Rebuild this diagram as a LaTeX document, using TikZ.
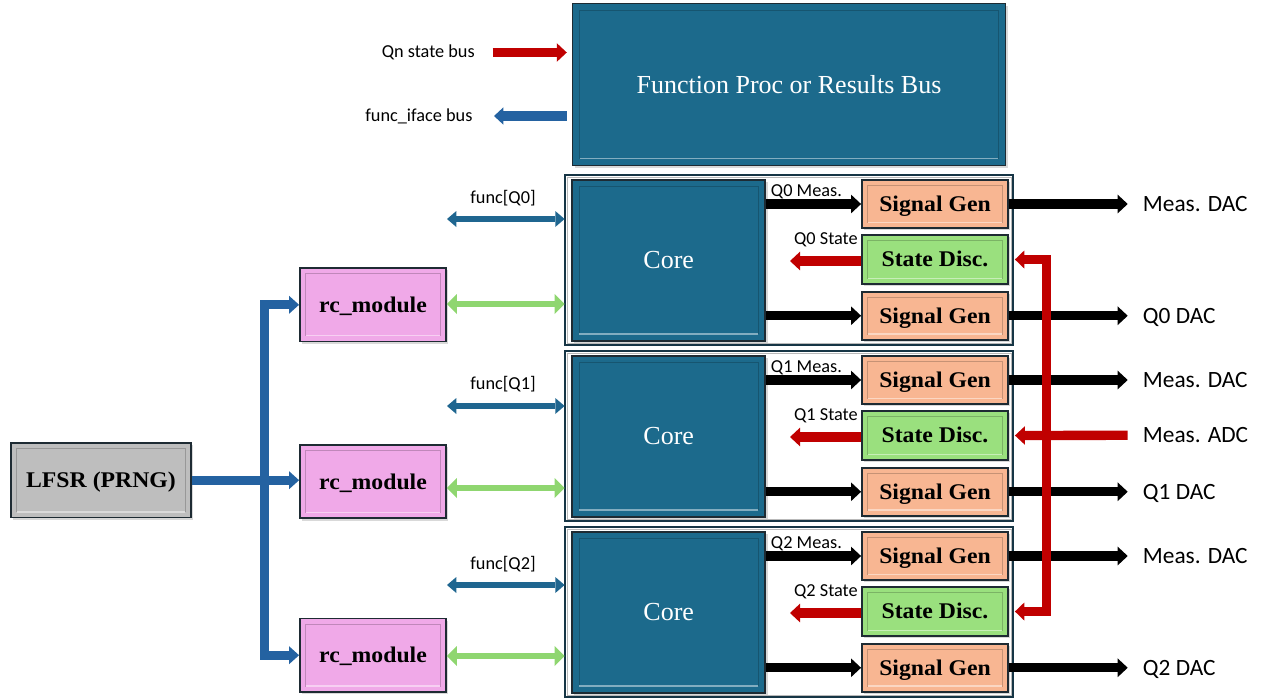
\documentclass[tikz,border=0pt]{standalone}
\usepackage{fontspec}
\setmainfont{Liberation Serif}
\newfontfamily\garb[FakeStretch=1.06]{Liberation Serif}
\newfontfamily\calib{Carlito}
\usetikzlibrary{arrows.meta,shadows,calc}

\definecolor{boxedge}{HTML}{1E2B33}
\definecolor{contedge}{HTML}{163545}
\definecolor{corefill}{HTML}{1C6A8C}
\definecolor{sgfill}{HTML}{F8B692}
\definecolor{sdfill}{HTML}{9AE07E}
\definecolor{rcfill}{HTML}{F0A9E8}
\definecolor{lfsrfill}{HTML}{BEBEBE}
\definecolor{funcblue}{HTML}{1F6690}
\definecolor{busblue}{HTML}{2462A1}
\definecolor{redc}{HTML}{C00000}
\definecolor{grnc}{HTML}{8FD670}

% inner bevel of a block: darker frame, light lower edge
\newcommand\bevel[3]{%
  \draw[#2!80!black, line width=0.8pt]
    ([shift={(#3,-#3)}]#1.north west) rectangle ([shift={(-#3,#3)}]#1.south east);
  \draw[#2!55!white, line width=1.1pt]
    ([shift={(#3,#3)}]#1.south west) -- ([shift={(-#3,#3)}]#1.south east);
}

\begin{document}
\begin{tikzpicture}[x=0.75pt,y=-0.75pt,
  blockbase/.style={draw=boxedge, line width=1.4pt, inner sep=0pt,
    drop shadow={opacity=0.3, shadow xshift=1.6pt, shadow yshift=-1.6pt}},
  serifbold/.style={font=\garb\bfseries\fontsize{16.8}{18}\selectfont,
    text height=11pt, text depth=0pt},
  sgbox/.style={blockbase, serifbold, fill=sgfill, minimum width=109.5pt, minimum height=36pt},
  sdbox/.style={blockbase, serifbold, fill=sdfill, minimum width=109.5pt, minimum height=37pt},
  rcbox/.style={blockbase, serifbold, fill=rcfill, minimum width=109.5pt, minimum height=55pt},
  lfsrbox/.style={blockbase, serifbold, fill=lfsrfill, minimum width=135pt, minimum height=56pt},
  corebox/.style={blockbase, fill=corefill, text=white, minimum width=145pt, minimum height=121pt,
    font=\fontsize{19.5}{22}\selectfont, text height=13pt, text depth=0pt},
  container/.style={draw=contedge, line width=1.8pt, fill=white, inner sep=0pt,
    minimum width=336pt, minimum height=127.5pt},
  smalllab/.style={font=\calib\fontsize{13.7}{15}\selectfont, inner sep=0pt},
  biglab/.style={font=\calib\fontsize{17.5}{20}\selectfont, inner sep=0pt,
    anchor=west, text height=11.3pt, text depth=0pt},
  blkarr/.style={draw=black, line width=7pt,
    -{Triangle[length=7.5pt,width=14pt,line width=0pt]}},
  redarr/.style={draw=redc, line width=7pt,
    -{Triangle[length=7.5pt,width=14pt,line width=0pt]}},
  redbus/.style={draw=redc, line width=6.8pt, line join=miter,
    {Triangle[length=7pt,width=13.5pt,line width=0pt]}-{Triangle[length=7pt,width=13.5pt,line width=0pt]}},
  busarr/.style={draw=busblue, line width=7pt,
    -{Triangle[length=7pt,width=13pt,line width=0pt]}},
  treearr/.style={draw=busblue, line width=7pt, line join=miter,
    -{Triangle[length=7.5pt,width=13.5pt,line width=0pt]}},
  funcarr/.style={draw=funcblue, line width=4.5pt,
    {Triangle[length=7pt,width=12pt,line width=0pt]}-{Triangle[length=7pt,width=12pt,line width=0pt]}},
  grnarr/.style={draw=grnc, line width=5.2pt,
    {Triangle[length=7.5pt,width=15pt,line width=0pt]}-{Triangle[length=7.5pt,width=15pt,line width=0pt]}},
]
\useasboundingbox (0,0) rectangle (1269,697);

% ---- function processor / results bus ----
\node[blockbase, fill=corefill, text=white, minimum width=324.75pt, minimum height=121.5pt,
  font=\fontsize{19.5}{22}\selectfont, text height=13pt, text depth=0pt]
  (fp) at (789,84.5) {Function Proc or Results Bus};
\bevel{fp}{corefill}{6pt}

\node[smalllab, anchor=east] (qn) at (475,52.5) {Qn state bus};
\node[smalllab, anchor=east] (fi) at (472.7,116) {func\_iface bus};
\draw[redarr] ($(qn.east)+(13.3pt,0)$) -- ($(fp.west |- qn.east)+(-3.6pt,0)$);
\draw[busarr] ($(fp.west |- fi.east)+(-3.6pt,0)$) -- ($(fi.east)+(16pt,0)$);

% ---- per-qubit blocks ----
\foreach \qi/\off/\fl/\fy/\gy/\ry in {0/0/198/219/304/304.8, 1/176/384/406/488/481.7, 2/352/564/585/656/655.2}{
  \node[container] (cont\qi) at (789,{260+\off}) {};
  \draw[gray!55, line width=0.6pt]
    ([shift={(2.4pt,-2.4pt)}]cont\qi.north west) rectangle ([shift={(-2.4pt,2.4pt)}]cont\qi.south east);

  \node[corebox] (core\qi) at (668.75,{260.25+\off}) {Core};
  \bevel{core\qi}{corefill}{6pt}

  \node[sgbox] (sga\qi) at (935,{204+\off}) {Signal Gen};
  \bevel{sga\qi}{sgfill}{5pt}
  \node[sdbox] (sd\qi) at (935,{259.5+\off}) {State Disc.};
  \bevel{sd\qi}{sdfill}{5pt}
  \node[sgbox] (sgb\qi) at (935,{315.75+\off}) {Signal Gen};
  \bevel{sgb\qi}{sgfill}{5pt}

  % core to signal generators, discriminator back to core
  \draw[blkarr] (core\qi.east |- sga\qi.west) -- (sga\qi.west);
  \draw[blkarr] (core\qi.east |- sgb\qi.west) -- (sgb\qi.west);
  \coordinate (st\qi) at (790,{261+\off});
  \draw[redarr] (sd\qi.west |- st\qi) -- (st\qi);
  \node[smalllab, anchor=west] (ml\qi) at (770.7,{191.7+\off}) {Q\qi{} Meas.};
  \node[smalllab, anchor=east] (sl\qi) at (858,{240+\off}) {Q\qi{} State};

  % outputs
  \node[biglab] (oa\qi) at (1142.7,{204+\off}) {Meas. DAC};
  \node[biglab] (ob\qi) at (1142.7,{315.75+\off}) {Q\qi{} DAC};
  \draw[blkarr, shorten >=11.25pt] (sga\qi.east) -- (oa\qi.west);
  \draw[blkarr, shorten >=11.25pt] (sgb\qi.east) -- (ob\qi.west);

  % left side: rc module and function interface
  \node[rcbox] (rc\qi) at (373,\ry) {rc\_module};
  \bevel{rc\qi}{rcfill}{5pt}
  \coordinate (g\qi) at (0,\gy);
  \draw[grnarr] (rc\qi.east |- g\qi) -- ($(cont\qi.west |- g\qi)+(0.6pt,0)$);
  \coordinate (f\qi) at (447,\fy);
  \draw[funcarr] (f\qi) -- ($(cont\qi.west |- f\qi)+(0.6pt,0)$);
  \node[smalllab] (fl\qi) at (503,\fl) {func[Q\qi]};
}

% ---- measurement ADC feeding the state discriminators ----
\node[biglab] (adc) at (1142.7,435.25) {Meas. ADC};
\coordinate (rv) at (1046.7,0);
\draw[redbus] ($(sd0.east)+(4.5pt,0)$) -| (rv |- sd2.east) -- ($(sd2.east)+(4.5pt,0)$);
\draw[redarr, shorten <=11.25pt] (adc.west) -- ($(sd1.east)+(4.5pt,0)$);

% ---- LFSR distribution tree ----
\node[lfsrbox] (lfsr) at (101,480.2) {LFSR (PRNG)};
\bevel{lfsr}{lfsrfill}{5pt}
\coordinate (tx) at (264.3,0);
\draw[treearr] (lfsr.east) -- (lfsr.east -| rc1.west);
\draw[treearr, {Triangle[length=7.5pt,width=13.5pt,line width=0pt]}-{Triangle[length=7.5pt,width=13.5pt,line width=0pt]}]
  (rc0.west) -- (tx |- rc0.west) -- (tx |- rc2.west) -- (rc2.west);
\end{tikzpicture}
\end{document}
